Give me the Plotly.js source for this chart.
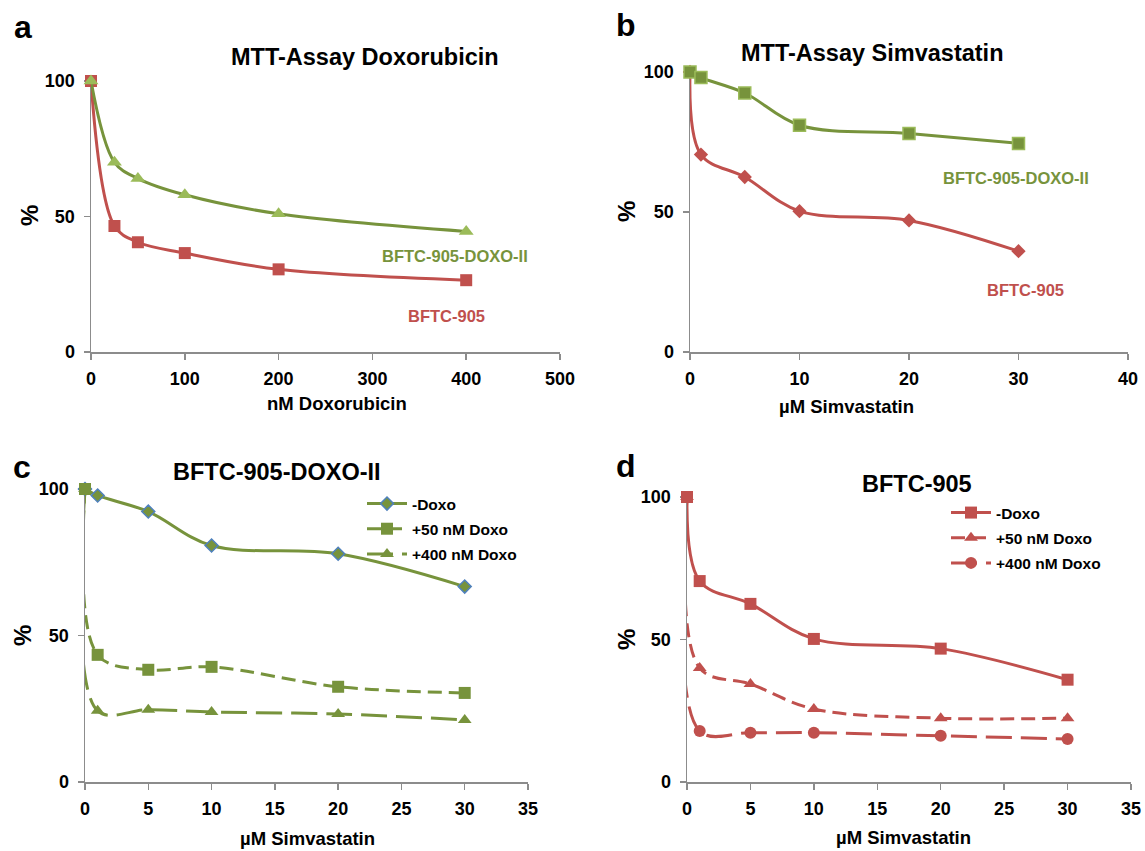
<!DOCTYPE html>
<html>
<head>
<meta charset="utf-8">
<script src="https://cdn.plot.ly/plotly-3.0.1.min.js"></script>
<style>html,body{margin:0;padding:0;background:#fff;}#chart{width:1145px;height:851px;}</style>
</head>
<body>
<div id="chart"></div>
<script>
// ---- Data ----
// Panel a: MTT-Assay Doxorubicin
var doxoConc = [0, 25, 50, 100, 200, 400];
var a_bftc905 = [100, 46.5, 40.5, 36.5, 30.5, 26.5];
var a_bftcDoxoII = [100, 70, 64, 58, 51, 44.5];

// Panel b: MTT-Assay Simvastatin
var simvaConc = [0, 1, 5, 10, 20, 30];
var b_bftc905 = [100, 70.5, 62.5, 50.3, 47, 36];
var b_bftcDoxoII = [100, 98, 92.5, 81, 78, 74.5];

// Panel c: BFTC-905-DOXO-II
var c_noDoxo = [100, 97.8, 92.3, 80.7, 77.9, 66.7];
var c_doxo50 = [100, 43.4, 38.3, 39.3, 32.5, 30.4];
var c_doxo400 = [100, 24.3, 24.7, 23.9, 23.2, 21.2];

// Panel d: BFTC-905
var d_noDoxo = [100, 70.5, 62.5, 50.2, 46.8, 35.9];
var d_doxo50 = [100, 40, 34.4, 25.6, 22.4, 22.4];
var d_doxo400 = [100, 17.9, 17.3, 17.3, 16.2, 15.1];

var seriesNames = ['-Doxo', '+50 nM Doxo', '+400 nM Doxo'];
var labelDoxoII = 'BFTC-905-DOXO-II';
var label905 = 'BFTC-905';

// ---- Styles ----
var RED = '#C0504D', GREEN = '#77933C', LGREEN = '#9BBB59', BLUE = '#4F81BD';
var FONT = 'Liberation Sans, Arial, sans-serif';

function ln(color, dash) { return {color: color, width: 3, shape: 'spline', smoothing: 1, dash: dash || 'solid'}; }
var DASH50 = '14px,7px', DASH400 = '26px,9px';

var traces = [
  // panel a
  {x: doxoConc, y: a_bftc905, xaxis: 'x', yaxis: 'y', mode: 'lines+markers', showlegend: false, cliponaxis: false,
   line: ln(RED), marker: {symbol: 'square', size: 12, color: RED}},
  {x: doxoConc, y: a_bftcDoxoII, xaxis: 'x', yaxis: 'y', mode: 'lines+markers', showlegend: false, cliponaxis: false,
   line: ln(GREEN), marker: {symbol: 'triangle-up', size: 13, color: LGREEN}},
  // panel b
  {x: simvaConc, y: b_bftc905, xaxis: 'x2', yaxis: 'y2', mode: 'lines+markers', showlegend: false, cliponaxis: false,
   line: ln(RED), marker: {symbol: 'diamond', size: 11, color: RED}},
  {x: simvaConc, y: b_bftcDoxoII, xaxis: 'x2', yaxis: 'y2', mode: 'lines+markers', showlegend: false, cliponaxis: false,
   line: ln(GREEN), marker: {symbol: 'square', size: 12, color: GREEN, line: {color: LGREEN, width: 1.5}}},
  // panel c
  {x: simvaConc, y: c_noDoxo, xaxis: 'x3', yaxis: 'y3', mode: 'lines+markers', name: seriesNames[0], legend: 'legend', legendgroup: 'c1', legendrank: 1, cliponaxis: false,
   line: ln(GREEN), marker: {symbol: 'diamond', size: 10, color: GREEN, line: {color: BLUE, width: 1.5}}},
  {x: simvaConc, y: c_doxo400, xaxis: 'x3', yaxis: 'y3', mode: 'lines+markers', name: seriesNames[2], legend: 'legend', legendgroup: 'c3', legendrank: 3, cliponaxis: false,
   line: ln(GREEN, DASH400), marker: {symbol: 'triangle-up', size: 12, color: GREEN}},
  {x: simvaConc, y: c_doxo50, xaxis: 'x3', yaxis: 'y3', mode: 'lines+markers', name: seriesNames[1], legend: 'legend', legendgroup: 'c2', legendrank: 2, cliponaxis: false,
   line: ln(GREEN, DASH50), marker: {symbol: 'square', size: 12, color: GREEN}},
  // panel d
  {x: simvaConc, y: d_doxo400, xaxis: 'x4', yaxis: 'y4', mode: 'lines+markers', name: seriesNames[2], legend: 'legend2', legendgroup: 'd3', legendrank: 3, cliponaxis: false,
   line: ln(RED, DASH400), marker: {symbol: 'circle', size: 12, color: RED}},
  {x: simvaConc, y: d_doxo50, xaxis: 'x4', yaxis: 'y4', mode: 'lines+markers', name: seriesNames[1], legend: 'legend2', legendgroup: 'd2', legendrank: 2, cliponaxis: false,
   line: ln(RED, DASH50), marker: {symbol: 'triangle-up', size: 12, color: RED}},
  {x: simvaConc, y: d_noDoxo, xaxis: 'x4', yaxis: 'y4', mode: 'lines+markers', name: seriesNames[0], legend: 'legend2', legendgroup: 'd1', legendrank: 1, cliponaxis: false,
   line: ln(RED), marker: {symbol: 'square', size: 12, color: RED}}
];

var W = 1145, H = 851;
function px(x) { return x / W; }
function py(y) { return 1 - y / H; }

var TICKFONT = {family: FONT, size: 18, color: '#000', weight: 'bold'};
function xax(l, r, range, dtick, anchor) {
  return {domain: [px(l), px(r)], range: range, dtick: dtick, tick0: 0, anchor: anchor, layer: 'below traces',
    showgrid: false, zeroline: false, showline: true, linecolor: '#8C8C8C', linewidth: 1.5,
    ticks: 'outside', ticklen: 6, tickcolor: '#8C8C8C', tickwidth: 1.5, ticklabelstandoff: 4,
    tickfont: TICKFONT, fixedrange: true};
}
function yax(t, b, anchor) {
  return {domain: [py(b), py(t)], range: [0, 100], dtick: 50, anchor: anchor, layer: 'below traces',
    showgrid: false, zeroline: false, showline: true, linecolor: '#8C8C8C', linewidth: 1.5,
    ticks: 'outside', ticklen: 6, tickcolor: '#8C8C8C', tickwidth: 1.5, ticklabelstandoff: 5,
    tickfont: TICKFONT, fixedrange: true};
}

function ann(text, x, y, size, color, extra) {
  var a = {text: text, x: px(x), y: py(y), xref: 'paper', yref: 'paper', showarrow: false,
    xanchor: 'center', yanchor: 'middle', font: {family: FONT, size: size, color: color || '#000', weight: 'bold'}};
  if (extra) for (var k in extra) a[k] = extra[k];
  return a;
}

var annotations = [
  ann('a', 23, 27, 32), ann('b', 626, 25, 32), ann('c', 22, 467, 32), ann('d', 626, 466, 32),
  ann('MTT-Assay Doxorubicin', 365, 57, 23.5), ann('MTT-Assay Simvastatin', 872, 53, 23.5),
  ann('BFTC-905-DOXO-II', 277, 472, 23.5), ann('BFTC-905', 917, 484, 23.5),
  ann('nM Doxorubicin', 337, 403, 18.5), ann('µM Simvastatin', 846, 406, 18.5),
  ann('µM Simvastatin', 307, 838, 18.5), ann('µM Simvastatin', 903, 837, 18.5),
  ann('%', 29, 216, 24, '#000', {textangle: -90}), ann('%', 626, 212, 24, '#000', {textangle: -90}),
  ann('%', 22, 636, 24, '#000', {textangle: -90}), ann('%', 626, 640, 24, '#000', {textangle: -90}),
  ann(labelDoxoII, 455, 256, 16.5, GREEN), ann(label905, 446, 316, 16.5, RED),
  ann(labelDoxoII, 1016, 178, 16.5, GREEN), ann(label905, 1025, 290, 16.5, RED)
];

var legendBase = {bgcolor: 'rgba(0,0,0,0)', borderwidth: 0, font: {family: FONT, size: 15.5, color: '#000', weight: 'bold'},
  xanchor: 'left', yanchor: 'top', tracegroupgap: 2, itemwidth: 40};

var layout = {
  width: W, height: H, margin: {l: 0, r: 0, t: 0, b: 0}, paper_bgcolor: '#fff', plot_bgcolor: 'rgba(0,0,0,0)',
  showlegend: true,
  xaxis: xax(91, 560, [0, 500], 100, 'y'), yaxis: yax(81, 352, 'x'),
  xaxis2: xax(690, 1128, [0, 40], 10, 'y2'), yaxis2: yax(72, 352, 'x2'),
  xaxis3: xax(85, 528, [0, 35], 5, 'y3'), yaxis3: yax(489, 782, 'x3'),
  xaxis4: xax(687, 1131, [0, 35], 5, 'y4'), yaxis4: yax(497, 782, 'x4'),
  legend: Object.assign({}, legendBase, {x: px(362), y: py(487)}),
  legend2: Object.assign({}, legendBase, {x: px(946), y: py(496)}),
  annotations: annotations
};

Plotly.newPlot('chart', traces, layout, {displayModeBar: false, staticPlot: true});
</script>
</body>
</html>
